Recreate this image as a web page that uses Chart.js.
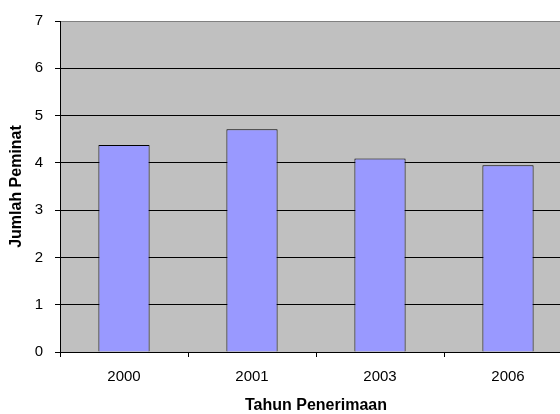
<!DOCTYPE html>
<html>
<head>
<meta charset="utf-8">
<script src="https://cdn.jsdelivr.net/npm/chart.js@4/dist/chart.umd.min.js"></script>
<style>
  html, body { margin: 0; padding: 0; background: #fff; overflow: hidden; }
  #wrap { width: 560px; height: 414px; overflow: hidden; }
</style>
</head>
<body>
<div id="wrap"><canvas id="c" width="600" height="414"></canvas></div>
<script>
// Jumlah peminat per tahun penerimaan
const years = ['2000', '2001', '2003', '2006'];
const peminat = [4.38, 4.71, 4.09, 3.95];
const yTicks = [0, 1, 2, 3, 4, 5, 6, 7];

const FONT = "'Liberation Sans', Arial, sans-serif";

// grey plot-area background
const plotBackground = {
  id: 'plotBackground',
  beforeDraw(chart) {
    const { ctx, chartArea: a } = chart;
    ctx.save();
    ctx.fillStyle = '#c0c0c0';
    ctx.fillRect(a.left, a.top, a.right - a.left, a.bottom - a.top);
    ctx.restore();
  }
};

new Chart(document.getElementById('c'), {
  type: 'bar',
  data: {
    labels: years,
    datasets: [{
      data: peminat,
      backgroundColor: '#9999ff',
      borderColor: '#000000',
      borderWidth: 1,
      barPercentage: 0.4,
      categoryPercentage: 1.0
    }]
  },
  options: {
    responsive: false,
    animation: false,
    layout: { padding: { top: 21, right: 28, bottom: 0, left: 0 } },
    plugins: {
      legend: { display: false },
      tooltip: { enabled: false }
    },
    scales: {
      x: {
        grid: {
          offset: true,
          drawOnChartArea: false,
          drawTicks: true,
          tickLength: 5,
          tickColor: '#000000'
        },
        border: { color: '#000000', width: 1 },
        ticks: {
          color: '#000000',
          padding: 11,
          font: { family: FONT, size: 15 }
        },
        title: {
          display: true,
          text: 'Tahun Penerimaan',
          color: '#000000',
          padding: { top: 0, bottom: 0 },
          font: { family: FONT, size: 16, weight: 'bold', lineHeight: 1 }
        },
        afterFit(scale) { scale.height = 62; }
      },
      y: {
        min: 0,
        max: 7,
        afterBuildTicks(scale) {
          scale.ticks = yTicks.map(v => ({ value: v }));
        },
        grid: {
          color: ctx => (ctx.tick && ctx.tick.value === 7) ? '#808080' : '#000000',
          lineWidth: 1,
          drawTicks: true,
          tickLength: 5,
          tickColor: '#000000'
        },
        border: { color: '#000000', width: 1 },
        ticks: {
          color: '#000000',
          padding: 12,
          font: { family: FONT, size: 15 }
        },
        title: {
          display: true,
          text: 'Jumlah Peminat',
          color: '#000000',
          padding: { top: 9, bottom: 0 },
          font: { family: FONT, size: 16, weight: 'bold', lineHeight: 1 }
        },
        afterFit(scale) { scale.width = 60; }
      }
    }
  },
  plugins: [plotBackground]
});
</script>
</body>
</html>
